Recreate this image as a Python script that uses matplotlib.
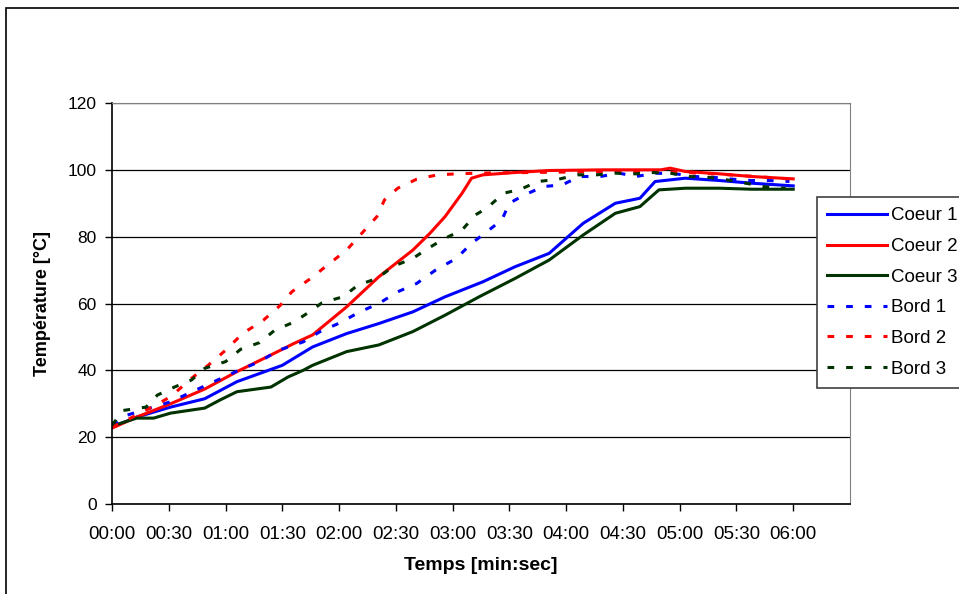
import matplotlib.pyplot as plt
from matplotlib.ticker import FuncFormatter, MultipleLocator
from matplotlib.patches import Rectangle

plt.rcParams['font.family'] = ['Liberation Sans', 'DejaVu Sans']

# temps en secondes, températures en °C
t_coeur1 = [0, 13, 31, 49, 66, 90, 106, 124, 141, 159, 176, 196, 213, 231, 249, 266, 279, 287, 303, 321, 338, 360]
coeur1 = [23, 26, 29, 31.5, 36.6, 41.5, 47, 51, 54, 57.5, 62, 66.5, 71, 75, 84, 90, 91.5, 96.5, 97.5, 96.8, 96, 95.2]

t_coeur2 = [0, 13, 31, 49, 66, 84, 96, 106, 124, 141, 159, 168, 176, 185, 190, 196, 213, 231, 260, 290, 295, 303, 321, 338, 360]
coeur2 = [22.7, 26, 30, 34.4, 39.6, 44.6, 48, 50.6, 59, 68, 76, 81, 86, 93, 97.5, 98.5, 99.2, 99.8, 100, 100, 100.5, 99.5, 98.8, 98, 97.3]

t_coeur3 = [0, 13, 22, 31, 49, 57, 66, 84, 93, 101, 106, 124, 141, 159, 176, 194, 213, 231, 249, 266, 279, 289, 303, 321, 338, 360]
coeur3 = [23.3, 25.7, 25.7, 27.2, 28.7, 31.1, 33.6, 35, 38, 40, 41.5, 45.6, 47.6, 51.6, 56.5, 62, 67.5, 73, 80.5, 87, 89, 94, 94.5, 94.5, 94.2, 94.2]

t_bord1 = [0, 8, 31, 50, 67, 78, 88, 101, 110, 120, 131, 141, 151, 161, 171, 182, 190, 197, 206, 210, 218, 228,
           238, 247, 258, 268, 277, 287, 298, 308, 317, 328, 338, 347, 358]
bord1 = [23.6, 26.6, 30.6, 35.6, 40, 42.6, 46, 48.5, 51.6, 54.1, 57.5, 60, 63.5, 66, 70, 73.5, 78, 81, 85, 90, 92.5, 95,
         95.5, 98, 98, 99, 98, 99, 98.8, 98, 97.8, 97.2, 96.8, 96.8, 96.5]

t_bord2 = [0, 13, 22, 31, 42, 51, 60, 69, 80, 89, 95, 105, 115, 124, 132, 140, 144, 151, 161, 172, 182, 193,
           220, 250, 280, 300, 321, 340, 360]
bord2 = [23, 26.6, 29.3, 32.1, 37.6, 41.6, 46, 51, 55, 59.5, 63.5, 67.5, 72, 76, 81, 86, 91, 94.5, 97.2, 98.5, 98.8, 99,
         99.2, 99.4, 99.5, 99.3, 98.7, 98, 97.2]

t_bord3 = [0, 6, 18, 24, 33, 42, 49, 60, 68, 78, 86, 96, 103, 111, 122, 130, 140, 149, 159, 167, 176, 185, 192, 198,
           207, 216, 225, 236, 246, 256, 266, 277, 285, 295, 305, 316, 325, 335, 344, 356]
bord3 = [23.6, 28, 29, 32.6, 35, 37.1, 40.6, 42.6, 46.3, 48.3, 52, 54.4, 57, 60.2, 62, 65.5, 67.5, 71.2, 73.5, 76.5,
         79.5, 82, 86.5, 88.5, 93, 94.2, 96.5, 97.2, 98.5, 98.5, 99, 98.8, 99.2, 99, 98, 97.7, 97, 96, 95, 94.5]

labels = ["Coeur 1", "Coeur 2", "Coeur 3", "Bord 1", "Bord 2", "Bord 3"]

fig = plt.figure(figsize=(9.59, 5.94), dpi=100)
ax = fig.add_axes([112 / 959, 1 - 504 / 594, 738 / 959, 401 / 594])

# cadre extérieur du graphique
fig.patches.append(Rectangle((6 / 959, -0.05), 1.1, 1 - 8 / 594 + 0.05, transform=fig.transFigure,
                             fill=False, edgecolor='black', linewidth=1.2))

blue, red, green = '#0000ff', '#ff0000', '#003300'
dash = (0, (2.2, 3.9))
lw = 2.2

ax.plot(t_coeur1, coeur1, color=blue, lw=lw, label=labels[0])
ax.plot(t_coeur2, coeur2, color=red, lw=lw, label=labels[1])
ax.plot(t_coeur3, coeur3, color=green, lw=lw, label=labels[2])
ax.plot(t_bord1, bord1, color=blue, lw=lw, linestyle=dash, label=labels[3])
ax.plot(t_bord2, bord2, color=red, lw=lw, linestyle=dash, label=labels[4])
ax.plot(t_bord3, bord3, color=green, lw=lw, linestyle=dash, label=labels[5])

ax.set_xlim(0, 390)
ax.set_ylim(0, 120)
ax.set_xticks(range(0, 361, 30))
ax.xaxis.set_major_formatter(FuncFormatter(lambda v, p: "%02d:%02d" % (v // 60, v % 60)))
ax.yaxis.set_major_locator(MultipleLocator(20))
ax.tick_params(axis='both', direction='out', length=5, width=1, labelsize=12.5, pad=6)
ax.tick_params(axis='x', pad=11, labelsize=13.5)

ax.grid(axis='y', color='black', linewidth=0.9)
ax.set_axisbelow(True)
for s in ['top', 'right']:
    ax.spines[s].set_color('#808080')
for s in ['left', 'bottom']:
    ax.spines[s].set_color('black')
    ax.spines[s].set_linewidth(1.2)

ax.set_xlabel("Temps [min:sec]", fontsize=14, fontweight='bold', labelpad=10)
ax.set_ylabel("Température [°C]", fontsize=13, fontweight='bold', labelpad=12)

leg = ax.legend(loc='upper left', bbox_to_anchor=(817 / 959, 1 - 197 / 594), bbox_transform=fig.transFigure,
                fontsize=13.5, frameon=True, fancybox=False, framealpha=1, edgecolor='#404040',
                handlelength=3.2, handletextpad=0.2, labelspacing=0.72, borderpad=0.55, borderaxespad=0)
leg.get_frame().set_linewidth(1.2)

fig.savefig("out.png", dpi=100)
